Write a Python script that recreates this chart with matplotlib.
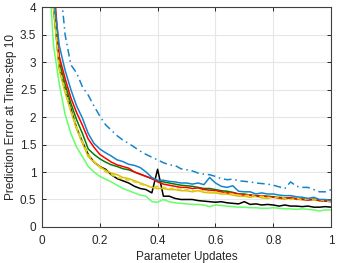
import numpy as np
import matplotlib
matplotlib.use("Agg")
import matplotlib.pyplot as plt

plt.rcParams['font.family'] = ['Liberation Sans', 'DejaVu Sans']

# parameter updates (fraction of training)
x = np.round(np.arange(0.02, 1.001, 0.02), 2)

blue_dashdot = [8.5, 6.5, 4.6, 3.5, 2.95, 2.8, 2.55, 2.4, 2.2, 2.02, 1.86, 1.76, 1.66, 1.58, 1.52,
                1.45, 1.38, 1.32, 1.27, 1.22, 1.17, 1.13, 1.12, 1.06, 1.04, 1.02, 0.98, 0.96, 0.95,
                0.92, 0.88, 0.86, 0.87, 0.84, 0.83, 0.82, 0.8, 0.79, 0.78, 0.76, 0.73, 0.7, 0.82,
                0.74, 0.72, 0.72, 0.68, 0.64, 0.64, 0.68]
blue = [6.5, 4.2, 3.3, 2.85, 2.5, 2.2, 1.98, 1.7, 1.52, 1.42, 1.35, 1.29, 1.22, 1.19, 1.14,
        1.12, 1.08, 1.0, 0.9, 0.85, 0.85, 0.83, 0.82, 0.8, 0.8, 0.78, 0.8, 0.77, 0.9,
        0.8, 0.74, 0.72, 0.75, 0.65, 0.64, 0.64, 0.6, 0.62, 0.6, 0.6, 0.58, 0.57, 0.57,
        0.55, 0.54, 0.52, 0.54, 0.5, 0.5, 0.48]
red = [7.0, 4.5, 3.1, 2.7, 2.35, 2.08, 1.85, 1.6, 1.45, 1.32, 1.25, 1.18, 1.13, 1.1, 1.07,
       1.0, 0.96, 0.92, 0.88, 0.82, 0.78, 0.76, 0.74, 0.72, 0.72, 0.7, 0.71, 0.68, 0.67,
       0.66, 0.64, 0.62, 0.62, 0.6, 0.58, 0.58, 0.56, 0.57, 0.55, 0.54, 0.53, 0.52, 0.53,
       0.51, 0.5, 0.49, 0.5, 0.48, 0.47, 0.46]
green = [6.8, 4.3, 3.0, 2.6, 2.25, 1.95, 1.7, 1.42, 1.32, 1.24, 1.18, 1.13, 1.1, 1.06, 1.04,
         1.0, 0.96, 0.92, 0.88, 0.84, 0.82, 0.8, 0.78, 0.76, 0.75, 0.74, 0.72, 0.7, 0.7,
         0.68, 0.66, 0.65, 0.63, 0.6, 0.6, 0.58, 0.57, 0.56, 0.56, 0.55, 0.54, 0.53, 0.52,
         0.52, 0.51, 0.5, 0.5, 0.49, 0.48, 0.47]
yellow = [6.2, 4.0, 2.85, 2.45, 2.1, 1.78, 1.52, 1.28, 1.18, 1.1, 1.03, 0.98, 0.95, 0.9, 0.88,
          0.84, 0.8, 0.76, 0.72, 0.7, 0.7, 0.68, 0.68, 0.66, 0.66, 0.64, 0.66, 0.63, 0.62,
          0.62, 0.6, 0.6, 0.58, 0.56, 0.56, 0.54, 0.56, 0.53, 0.52, 0.55, 0.52, 0.5, 0.54,
          0.5, 0.5, 0.49, 0.51, 0.47, 0.48, 0.48]
yellow_dashed = [6.3, 4.1, 2.9, 2.5, 2.12, 1.82, 1.55, 1.32, 1.2, 1.08, 1.0, 0.95, 0.9, 0.87, 0.85,
                 0.82, 0.78, 0.75, 0.72, 0.74, 0.72, 0.7, 0.7, 0.68, 0.68, 0.66, 0.65, 0.66, 0.63,
                 0.64, 0.6, 0.62, 0.6, 0.58, 0.57, 0.58, 0.55, 0.56, 0.54, 0.53, 0.55, 0.52, 0.5,
                 0.52, 0.5, 0.51, 0.49, 0.5, 0.47, 0.47]
black = [6.2, 4.0, 2.9, 2.5, 2.15, 1.8, 1.55, 1.32, 1.18, 1.1, 1.05, 0.95, 0.88, 0.84, 0.8,
         0.74, 0.7, 0.68, 0.62, 1.05, 0.56, 0.56, 0.52, 0.5, 0.5, 0.5, 0.48, 0.47, 0.46,
         0.45, 0.46, 0.44, 0.43, 0.42, 0.46, 0.41, 0.42, 0.4, 0.41, 0.4, 0.38, 0.4, 0.38,
         0.38, 0.37, 0.38, 0.36, 0.36, 0.37, 0.36]
light_green = [5.0, 3.3, 2.6, 2.05, 1.7, 1.45, 1.28, 1.1, 1.0, 0.92, 0.87, 0.82, 0.76, 0.7, 0.66,
               0.62, 0.58, 0.56, 0.46, 0.45, 0.5, 0.46, 0.44, 0.43, 0.42, 0.41, 0.41, 0.4, 0.37,
               0.4, 0.39, 0.38, 0.37, 0.36, 0.36, 0.35, 0.35, 0.34, 0.34, 0.35, 0.34, 0.33, 0.33,
               0.32, 0.33, 0.32, 0.31, 0.29, 0.31, 0.31]

fig = plt.figure(figsize=(3.41, 2.63), dpi=100)
ax = fig.add_axes([0.123, 0.137, 0.848, 0.836])

lw = 1.1
ax.plot(x, light_green, color='#66ff66', lw=lw)
ax.plot(x, black, color='black', lw=lw)
ax.plot(x, yellow, color='#d4c200', lw=lw)
ax.plot(x, green, color='#008000', lw=lw)
ax.plot(x, red, color='#ff0000', lw=lw)
ax.plot(x, yellow_dashed, color='#e6d21a', lw=lw, ls='--', dashes=(3, 2))
ax.plot(x, blue, color='#1584cc', lw=lw)
ax.plot(x, blue_dashdot, color='#1584cc', lw=lw, ls='-.', dashes=(5, 2.5, 1, 2.5))

ax.set_xlim(0, 1)
ax.set_ylim(0, 4)
ax.set_xticks([0, 0.2, 0.4, 0.6, 0.8, 1])
ax.set_xticklabels(['0', '0.2', '0.4', '0.6', '0.8', '1'])
ax.set_yticks(np.arange(0, 4.01, 0.5))
ax.set_yticklabels(['0', '0.5', '1', '1.5', '2', '2.5', '3', '3.5', '4'])
ax.grid(True, color='#e6e6e6', lw=0.8)
ax.set_axisbelow(True)
ax.tick_params(direction='in', length=3, width=0.7, top=True, right=True,
               labelsize=8.5, colors='#262626')
ax.tick_params(axis='x', pad=6)
ax.tick_params(axis='y', pad=4)
for s in ax.spines.values():
    s.set_color('#404040')
    s.set_linewidth(0.8)

ax.set_xlabel('Parameter Updates', fontsize=8.5, color='#262626', labelpad=3)
ax.set_ylabel('Prediction Error at Time-step 10', fontsize=8.5, color='#262626', labelpad=2)

fig.savefig('out.png', dpi=100)
